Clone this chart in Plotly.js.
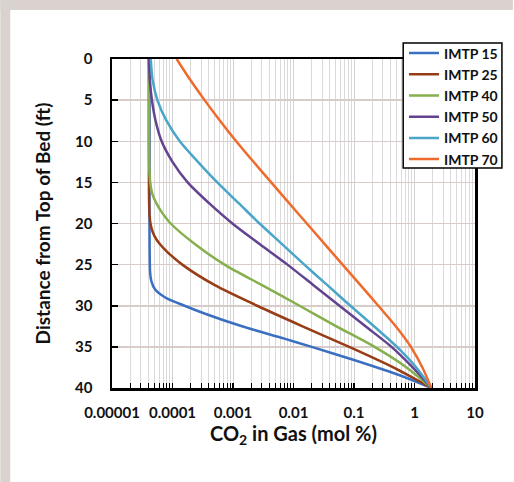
<!DOCTYPE html>
<html>
<head>
<meta charset="utf-8">
<script src="https://cdn.plot.ly/plotly-3.0.1.min.js"></script>
<style>html,body{margin:0;padding:0;background:#fff;}#chart{width:514px;height:482px;}</style>
</head>
<body>
<div id="chart"></div>
<script>
// ---- data ----
var seriesNames = ["IMTP 15", "IMTP 25", "IMTP 40", "IMTP 50", "IMTP 60", "IMTP 70"];

var depth15 = [0, 20, 26, 27, 28, 29, 30, 31, 32.5, 34, 35, 36.5, 38, 39, 40];
var co2_15  = [4.17e-5, 4.17e-5, 4.27e-5, 4.47e-5, 5.13e-5, 7.59e-5, 1.58e-4, 3.55e-4, 1.41e-3, 7.08e-3, 0.02, 0.0912, 0.38, 0.891, 1.9];

var depth25 = [0, 10, 19, 20.5, 21.5, 22.5, 23.5, 25, 27.5, 30, 32.5, 35, 37.5, 40];
var co2_25  = [4.07e-5, 4.07e-5, 4.17e-5, 4.47e-5, 5.01e-5, 6.17e-5, 8.32e-5, 1.45e-4, 5.01e-4, 2.51e-3, 0.0141, 0.0832, 0.447, 1.9];

var depth40 = [0, 10, 14, 15.5, 16.5, 17.5, 18.5, 20, 22.5, 25, 27.5, 30, 32.5, 35, 37.5, 40];
var co2_40  = [4.07e-5, 4.07e-5, 4.17e-5, 4.37e-5, 4.68e-5, 5.37e-5, 6.46e-5, 9.33e-5, 2.34e-4, 7.24e-4, 3.02e-3, 0.0126, 0.0513, 0.219, 0.741, 1.9];

var depth50 = [0, 2.5, 5, 7.5, 10, 12.5, 15, 17.5, 20, 22.5, 25, 27.5, 30, 32.5, 35, 37.5, 40];
var co2_50  = [4.07e-5, 4.22e-5, 4.57e-5, 5.25e-5, 6.61e-5, 1e-4, 1.78e-4, 3.98e-4, 9.77e-4, 2.75e-3, 7.94e-3, 0.0214, 0.0575, 0.155, 0.417, 0.933, 1.9];

var depth60 = [0, 2.5, 5, 7.5, 10, 12.5, 15, 17.5, 20, 22.5, 25, 27.5, 30, 32.5, 35, 37.5, 40];
var co2_60  = [4.37e-5, 4.68e-5, 5.62e-5, 7.94e-5, 1.32e-4, 2.63e-4, 5.5e-4, 1.23e-3, 2.75e-3, 6.46e-3, 0.0151, 0.0363, 0.0871, 0.214, 0.513, 1.07, 1.9];

var depth70 = [0, 2.5, 5, 7.5, 10, 12.5, 15, 17.5, 20, 22.5, 25, 27.5, 30, 32.5, 35, 37.5, 40];
var co2_70  = [1.17e-4, 1.95e-4, 3.39e-4, 6.1e-4, 1.13e-3, 2.18e-3, 4.28e-3, 8.4e-3, 0.0166, 0.0328, 0.0647, 0.128, 0.252, 0.49, 0.87, 1.35, 1.9];

var xTickVals  = [1e-5, 1e-4, 1e-3, 1e-2, 1e-1, 1, 10];
var xTickText  = ["0.00001", "0.0001", "0.001", "0.01", "0.1", "1", "10"];
var yTickVals  = [0, 5, 10, 15, 20, 25, 30, 35, 40];

// ---- styling ----
var colors = ["#3B6FC2", "#983C16", "#86AF4E", "#63438F", "#4AA5C9", "#EE6B2D"];
var depths = [depth15, depth25, depth40, depth50, depth60, depth70];
var values = [co2_15, co2_25, co2_40, co2_50, co2_60, co2_70];

var traces = seriesNames.map(function (n, i) {
  return {
    x: values[i], y: depths[i], name: n, type: "scatter", mode: "lines",
    line: { color: colors[i], width: 2.5, shape: "spline", smoothing: 0.8 },
    hoverinfo: "skip"
  };
});

// minor log ticks (axis styling)
var minorVals = [];
for (var e = -5; e < 1; e++) {
  for (var d = 2; d <= 9; d++) minorVals.push(d * Math.pow(10, e));
}

var W = 514, H = 482, L = 112, R = 476, T = 59, B = 388;
function px2x(px) { return (px - L) / (R - L); }
function py2y(py) { return (B - py) / (B - T); }
var gray = "#D9D2CE";
var FAM = "Lato, 'Open Sans', sans-serif";

var layout = {
  width: W, height: H,
  margin: { l: L, r: W - R, t: T, b: H - B, pad: 0 },
  paper_bgcolor: "#ffffff",
  plot_bgcolor: "#ffffff",
  showlegend: true,
  font: { family: FAM, size: 14, color: "#111", weight: 700 },
  xaxis: {
    type: "log", range: [-5, 1],
    tickmode: "array", tickvals: xTickVals, ticktext: xTickText,
    ticks: "inside", ticklen: 5, tickwidth: 1.5, tickcolor: "#000",
    showline: true, linecolor: "#000", linewidth: 2.5, mirror: true,
    showgrid: true, gridcolor: "#D2D2D2", gridwidth: 1,
    zeroline: false,
    tickfont: { family: FAM, size: 15, color: "#111", weight: 700 },
    ticklabelstandoff: 9,
    minor: { tickmode: "array", tickvals: minorVals, ticks: "inside", ticklen: 5, tickwidth: 1, tickcolor: "#000",
             showgrid: true, gridcolor: "#DADADA", gridwidth: 1 },
    title: { text: "CO<sub>2</sub> in Gas (mol %)", font: { family: FAM, size: 20, color: "#111", weight: 700 }, standoff: 1 },
    automargin: false
  },
  yaxis: {
    range: [40, 0],
    tickmode: "array", tickvals: yTickVals,
    ticks: "inside", ticklen: 6, tickwidth: 1.5, tickcolor: "#000",
    showline: true, linecolor: "#000", linewidth: 2.5, mirror: true,
    showgrid: true, gridcolor: "#D8CCC8", gridwidth: 1.5,
    zeroline: false,
    tickfont: { family: FAM, size: 15, color: "#111", weight: 700 },
    ticklabelstandoff: 14,
    title: { text: "Distance from Top of Bed (ft)", font: { family: FAM, size: 19, color: "#111", weight: 700 }, standoff: 20 },
    automargin: false
  },
  legend: {
    x: px2x(404), y: py2y(37.5), xanchor: "left", yanchor: "top",
    bgcolor: "rgba(0,0,0,0)", borderwidth: 0,
    font: { family: FAM, size: 14, color: "#111", weight: 700 },
    itemwidth: 30
  },
  shapes: [
    { type: "rect", xref: "paper", yref: "paper", x0: px2x(0), x1: px2x(10), y0: py2y(H), y1: py2y(0),
      fillcolor: gray, line: { width: 0 }, layer: "below" },
    { type: "rect", xref: "paper", yref: "paper", x0: px2x(0), x1: px2x(W), y0: py2y(10), y1: py2y(0),
      fillcolor: gray, line: { width: 0 }, layer: "below" },
    // legend frame
    { type: "rect", xref: "paper", yref: "paper", x0: px2x(404), x1: px2x(503), y0: py2y(168), y1: py2y(43),
      fillcolor: "#ffffff", line: { color: "#000", width: 1.5 }, layer: "above" }
  ]
};

Plotly.newPlot("chart", traces, layout, { staticPlot: true, displayModeBar: false });
</script>
</body>
</html>
